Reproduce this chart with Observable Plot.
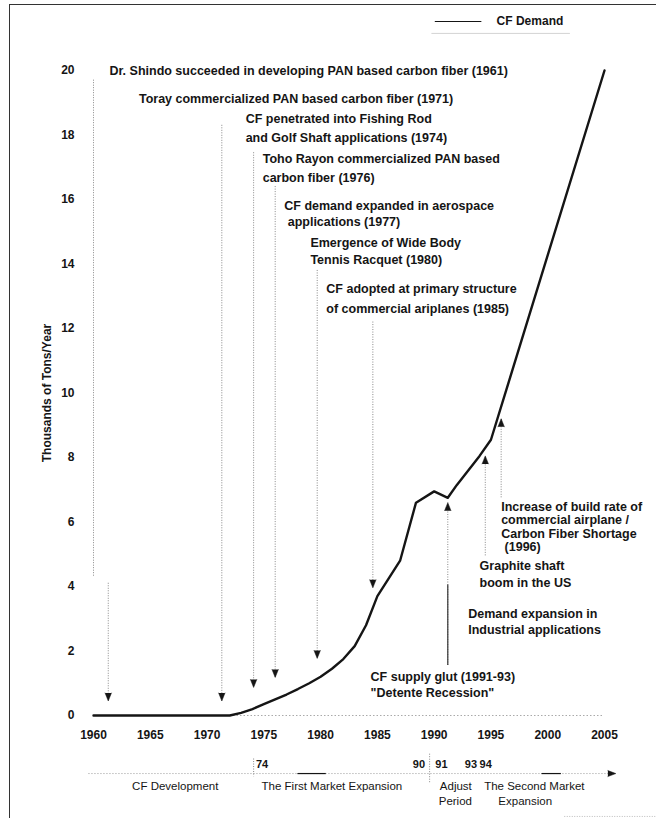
<!DOCTYPE html>
<html><head><meta charset="utf-8">
<script src="https://cdn.jsdelivr.net/npm/d3@7"></script>
<script src="https://cdn.jsdelivr.net/npm/@observablehq/plot@0.6"></script>
<style>
body{margin:0;background:#fff;}
#wrap{position:relative;width:656px;height:818px;overflow:hidden;}
#frame{position:absolute;left:9px;top:4px;width:700px;height:900px;border-left:1.5px solid #333;border-top:1.5px solid #333;pointer-events:none;}
svg{position:absolute;left:0;top:0;}
g[aria-label="ytitle"] text{letter-spacing:1.2px;}
g[aria-label="phase"] text{letter-spacing:0.8px;}
</style></head><body><div id="wrap"><div id="frame"></div></div>
<script>
// CF demand curve (thousands of tons / year)
const years  = [1960,1972,1973,1974,1975,1976,1977,1978,1979,1980,1981,1982,1983,1984,1985,1986,1987,1988.4,1990,1991.2,1992,1993,1994,1995,2005];
const demand = [0,   0,   0.08,0.2, 0.35,0.5, 0.65,0.82,1.0, 1.2, 1.45,1.75,2.15,2.8, 3.7, 4.25,4.8, 6.6,   6.95,6.75,  7.15,7.6, 8.05,8.55,20];

const xTicks = [1960,1965,1970,1975,1980,1985,1990,1995,2000,2005];
const yTicks = [0,2,4,6,8,10,12,14,16,18,20];

// annotation text lines: start year, value, text
const annX = [1961.4,1964.0,1973.4,1973.4,1974.9,1974.9,1976.8,1977.1,1979.1,1979.1,1980.5,1980.5,1995.9,1995.9,1995.9,1996.2,1994.0,1994.0,1993.0,1993.0,1984.4,1984.4];
const annY = [19.97,19.13,18.51,17.92,17.27,16.68,15.81,15.29,14.64,14.11,13.21,12.62,6.45,6.05,5.64,5.24,4.65,4.12,3.16,2.64,1.18,0.71];
const annText = [
  "Dr. Shindo succeeded in developing PAN based carbon fiber (1961)",
  "Toray commercialized PAN based carbon fiber (1971)",
  "CF penetrated into Fishing Rod",
  "and Golf Shaft applications (1974)",
  "Toho Rayon commercialized PAN based",
  "carbon fiber (1976)",
  "CF demand expanded in aerospace",
  "applications (1977)",
  "Emergence of Wide Body",
  "Tennis Racquet (1980)",
  "CF adopted at primary structure",
  "of commercial ariplanes (1985)",
  "Increase of build rate of",
  "commercial airplane /",
  "Carbon Fiber Shortage",
  "(1996)",
  "Graphite shaft",
  "boom in the US",
  "Demand expansion in",
  "Industrial applications",
  "CF supply glut (1991-93)",
  "\"Detente Recession\""
];

// pointer lines: year, top value, tip value
const downX   = [1960.0,1971.3,1974.1,1976.0,1979.7,1984.6];
const downTop = [19.7, 18.3, 17.45,16.4, 13.8, 12.2];
const downTip = [4.3,  0.45, 0.87, 1.18, 1.77, 3.96];
const firstArrowX = [1961.3], firstArrowTop = [4.1], firstArrowTip = [0.45];
const upX   = [1991.2,1994.5,1995.9];
const upBot = [1.55, 4.95, 6.75];
const upTip = [6.6,  8.05, 9.2];

// legend
const legendX = [1990.1,1994.2], legendY = 21.52, legendTextX = 1995.5, legendText = "CF Demand";
const legendShadowX = [1989.8,2002.0], legendShadowY = 21.15;

// market phase timeline (below axis)
const phaseLineY = -1.8, phaseStart = 1959.6, phaseEnd = 2006.0;
const phaseDashX1 = [1978.0,1999.5], phaseDashX2 = [1980.5,2001.2];
const phaseTickX = [1974.1,1989.6], phaseTickY1 = [-1.35,-1.2], phaseTickY2 = [-1.9,-2.1];
const markYearY = -1.52;
const markStartX = [1974.3,1990.1,1992.7,1994.0];
const markStartText = ["74","91","93","94"];
const markEndX = [1989.2];
const markEndText = ["90"];
const phaseX = [1963.4,1974.8,1990.5,1990.4,1994.4,1995.65];
const phaseY = [-2.2,-2.2,-2.2,-2.67,-2.2,-2.67];
const phaseText = ["CF Development","The First Market Expansion","Adjust","Period","The Second Market","Expansion"];
const bottomEdgeX = [2001.5,2010], bottomEdgeY = -3.13;

const curve = years.map((y,i)=>({year:y, value:demand[i]}));
const ann = annText.map((t,i)=>({x:annX[i], y:annY[i], t}));
const downs = downX.map((x,i)=>({x, y1:downTop[i], y2:downTip[i]}));
const firstArrow = firstArrowX.map((x,i)=>({x, y1:firstArrowTop[i], y2:firstArrowTip[i]}));
const ups = upX.map((x,i)=>({x, y1:upBot[i], y2:upTip[i]}));
const marksStart = markStartText.map((t,i)=>({x:markStartX[i], t}));
const marksEnd = markEndText.map((t,i)=>({x:markEndX[i], t}));
const phases = phaseText.map((t,i)=>({x:phaseX[i], y:phaseY[i], t}));

const font = "'Liberation Sans', Arial, Helvetica, sans-serif";
const ink = "#151515";

const chart = Plot.plot({
  width:656, height:818,
  marginLeft:93, marginRight:52, marginTop:70, marginBottom:103,
  style:{fontFamily:font, background:"transparent", overflow:"visible", color:ink},
  x:{domain:[1960,2005]},
  y:{domain:[0,20]},
  marks:[
    Plot.axisX({ticks:xTicks, tickSize:0, tickPadding:15, tickFormat:d=>String(d), fontSize:12, fontWeight:"bold", label:null}),
    Plot.axisY({ticks:yTicks, tickSize:0, tickPadding:19, fontSize:12, fontWeight:"bold", label:null}),
    Plot.text([{t:"Thousands of Tons/Year", v:10}], {y:"v", text:"t", frameAnchor:"left", textAnchor:"middle", dx:-46, rotate:-90, fontSize:12, fontWeight:"bold", fill:ink, ariaLabel:"ytitle"}),
    Plot.ruleY([0], {x1:1960, x2:2005, stroke:"#aaa", strokeDasharray:"1.5,2"}),
    // pointer lines
    Plot.ruleX(downs, {x:"x", y1:"y1", y2:"y2", stroke:"#888", strokeWidth:1, strokeDasharray:"1,1.5"}),
    Plot.ruleX(firstArrow, {x:"x", y1:"y1", y2:"y2", stroke:"#888", strokeWidth:1, strokeDasharray:"1,1.5"}),
    Plot.ruleX(ups, {x:"x", y1:"y1", y2:"y2", stroke:"#888", strokeWidth:1, strokeDasharray:"1,1.5"}),
    Plot.ruleX([upX[0]], {y1:upBot[0], y2:4.05, stroke:"#333", strokeWidth:1.2}),
    Plot.vector(downs.slice(1).concat(firstArrow), {x:"x", y:"y2", length:8, r:3.2, rotate:180, shape:"spike", anchor:"end", fill:ink, stroke:ink, strokeWidth:0.5}),
    Plot.vector(ups, {x:"x", y:"y2", length:8, r:3.2, rotate:0, shape:"spike", anchor:"end", fill:ink, stroke:ink, strokeWidth:0.5}),
    // curve
    Plot.line(curve, {x:"year", y:"value", stroke:ink, strokeWidth:2.4, strokeLinejoin:"round"}),
    // annotations
    Plot.text(ann, {x:"x", y:"y", text:"t", textAnchor:"start", fontSize:12.5, fontWeight:"bold", fill:ink}),
    // legend
    Plot.ruleY([legendShadowY], {x1:legendShadowX[0], x2:legendShadowX[1], stroke:"#d4d4d4", strokeWidth:1}),
    Plot.ruleY([legendY], {x1:legendX[0], x2:legendX[1], stroke:ink, strokeWidth:1.2}),
    Plot.text([legendText], {x:legendTextX, y:legendY, textAnchor:"start", fontSize:12, fontWeight:"bold", fill:ink}),
    // phase timeline
    Plot.ruleY([phaseLineY], {x1:phaseStart, x2:phaseEnd, stroke:"#999", strokeDasharray:"1,2"}),
    Plot.ruleY(phaseDashX1.map((x,i)=>({x1:x, x2:phaseDashX2[i]})), {y:phaseLineY, x1:"x1", x2:"x2", stroke:ink, strokeWidth:1.2}),
    Plot.vector([{x:phaseEnd}], {x:"x", y:phaseLineY, length:8, r:3, rotate:90, shape:"spike", anchor:"end", fill:ink, stroke:ink, strokeWidth:0.5}),
    Plot.ruleX(phaseTickX.map((x,i)=>({x, y1:phaseTickY1[i], y2:phaseTickY2[i]})), {x:"x", y1:"y1", y2:"y2", stroke:"#888", strokeDasharray:"1,1.5"}),
    Plot.text(marksStart, {x:"x", y:markYearY, text:"t", textAnchor:"start", fontSize:11, fontWeight:"bold", fill:ink}),
    Plot.text(marksEnd, {x:"x", y:markYearY, text:"t", textAnchor:"end", fontSize:11, fontWeight:"bold", fill:ink}),
    Plot.text(phases, {x:"x", y:"y", text:"t", textAnchor:"start", fontSize:11.5, fill:ink, ariaLabel:"phase"}),
    Plot.ruleY([bottomEdgeY], {x1:bottomEdgeX[0], x2:bottomEdgeX[1], stroke:"#bbb", strokeDasharray:"1,1.5"})
  ]
});
document.getElementById("wrap").appendChild(chart);
</script>
</body></html>
